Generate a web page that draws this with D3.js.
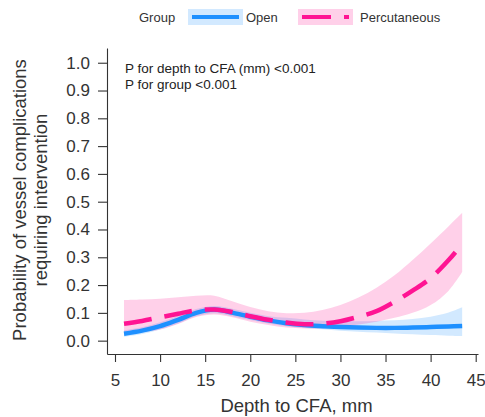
<!DOCTYPE html>
<html>
<head>
<meta charset="utf-8">
<script src="https://cdn.jsdelivr.net/npm/d3@7"></script>
<style>
  body { margin: 0; background: #fff; }
  svg text { font-family: "Liberation Sans", Arial, sans-serif; }
</style>
</head>
<body>
<svg width="485" height="417"></svg>
<script>
// depth to CFA (mm) where the curves were read
depth = [6, 8, 10, 12, 14, 16, 18, 20, 22, 24, 26, 28, 30, 32, 34, 36, 38, 40, 42, 43.5];

// Open
openFit = [0.025, 0.036, 0.052, 0.075, 0.100, 0.112, 0.101, 0.086, 0.073, 0.063, 0.056, 0.052, 0.049, 0.047, 0.046, 0.046, 0.047, 0.049, 0.051, 0.053];
openLow = [0.014, 0.024, 0.040, 0.062, 0.088, 0.099, 0.088, 0.074, 0.062, 0.052, 0.046, 0.041, 0.036, 0.032, 0.029, 0.026, 0.023, 0.020, 0.018, 0.017];
openHigh = [0.037, 0.048, 0.066, 0.090, 0.114, 0.125, 0.115, 0.100, 0.088, 0.082, 0.076, 0.072, 0.070, 0.070, 0.071, 0.073, 0.078, 0.086, 0.101, 0.120];

// Percutaneous
percFit = [0.061, 0.071, 0.084, 0.097, 0.109, 0.112, 0.103, 0.088, 0.075, 0.065, 0.059, 0.061, 0.070, 0.086, 0.106, 0.140, 0.180, 0.225, 0.290, 0.348];
percLow = [0.022, 0.030, 0.040, 0.060, 0.085, 0.094, 0.084, 0.068, 0.056, 0.047, 0.044, 0.045, 0.050, 0.058, 0.068, 0.082, 0.100, 0.128, 0.180, 0.247];
percHigh = [0.146, 0.148, 0.151, 0.156, 0.162, 0.162, 0.142, 0.121, 0.106, 0.099, 0.100, 0.110, 0.128, 0.155, 0.190, 0.235, 0.290, 0.350, 0.412, 0.460];

xTicks = [5, 10, 15, 20, 25, 30, 35, 40, 45];
yTicks = [0, 0.1, 0.2, 0.3, 0.4, 0.5, 0.6, 0.7, 0.8, 0.9, 1.0];

blue = '#1e90ff';
pink = '#ff1493';

svg = d3.select('svg');

// panel edges (window.top is read-only, so no bare "top")
panelLeft = 107; panelRight = 478; panelTop = 48; panelBottom = 354;

xScale = d3.scaleLinear().domain([4.113, 45.255]).range([panelLeft, panelRight]);
yScale = d3.scaleLinear().domain([-0.048, 1.053]).range([panelBottom, panelTop]);

series = [
    { name: 'Open', color: blue, fit: openFit, low: openLow, high: openHigh, dash: null },
    { name: 'Percutaneous', color: pink, fit: percFit, low: percLow, high: percHigh, dash: '28,13' }
];

ribbon = d3.area()
    .x((d) => xScale(d.x))
    .y0((d) => yScale(d.lo))
    .y1((d) => yScale(d.hi))
    .curve(d3.curveCatmullRom);

fitLine = d3.line()
    .x((d) => xScale(d.x))
    .y((d) => yScale(d.y))
    .curve(d3.curveCatmullRom);

// ribbons first, then lines
series.forEach((s) => {
    pts = depth.map((x, i) => ({ x: x, lo: s.low[i], hi: s.high[i] }));
    svg.append('path')
        .attr('d', ribbon(pts))
        .attr('fill', s.color)
        .attr('fill-opacity', 0.2);
});

series.forEach((s) => {
    pts = depth.map((x, i) => ({ x: x, y: s.fit[i] }));
    svg.append('path')
        .attr('d', fitLine(pts))
        .attr('fill', 'none')
        .attr('stroke', s.color)
        .attr('stroke-width', 4.5)
        .attr('stroke-dasharray', s.dash);
});

// axes
xAxis = svg.append('g')
    .attr('transform', `translate(0, ${panelBottom})`)
    .call(d3.axisBottom(xScale).tickValues(xTicks).tickSize(8).tickSizeOuter(0).tickPadding(12));

yAxis = svg.append('g')
    .attr('transform', `translate(${panelLeft}, 0)`)
    .call(d3.axisLeft(yScale).tickValues(yTicks).tickSize(9).tickSizeOuter(0).tickPadding(8)
        .tickFormat(d3.format('.1f')));

[xAxis, yAxis].forEach((g) => {
    g.selectAll('path, line').attr('stroke', '#333').attr('stroke-width', 1.1);
    g.selectAll('text').attr('fill', '#333').style('font-size', '17px');
});

// axis titles
svg.append('text')
    .attr('x', (panelLeft + panelRight) / 2 + 4)
    .attr('y', 412)
    .attr('text-anchor', 'middle')
    .attr('fill', '#333')
    .style('font-size', '18.5px')
    .text('Depth to CFA, mm');

yTitle = svg.append('text')
    .attr('transform', 'translate(26, 200) rotate(-90)')
    .attr('text-anchor', 'middle')
    .attr('fill', '#333')
    .style('font-size', '18.5px');
yTitle.append('tspan').attr('x', 0).attr('y', 0).text('Probability of vessel complications');
yTitle.append('tspan').attr('x', 0).attr('y', 21).text('requiring intervention');

// annotation
svg.append('text')
    .attr('x', 125).attr('y', 73)
    .attr('fill', '#222')
    .style('font-size', '13.5px')
    .text('P for depth to CFA (mm) <0.001');
svg.append('text')
    .attr('x', 125).attr('y', 89)
    .attr('fill', '#222')
    .style('font-size', '13.5px')
    .text('P for group <0.001');

// legend
legend = svg.append('g');
legend.append('text')
    .attr('x', 139).attr('y', 22)
    .attr('fill', '#333')
    .style('font-size', '13px')
    .text('Group');

keyX = [188, 298];
labelX = [246, 360];
series.forEach((s, i) => {
    legend.append('rect')
        .attr('x', keyX[i]).attr('y', 9)
        .attr('width', 55).attr('height', 16)
        .attr('fill', s.color)
        .attr('fill-opacity', 0.2);
    legend.append('line')
        .attr('x1', keyX[i] + 4).attr('x2', keyX[i] + 51)
        .attr('y1', 17).attr('y2', 17)
        .attr('stroke', s.color)
        .attr('stroke-width', 4)
        .attr('stroke-dasharray', s.dash ? '29,13' : null);
    legend.append('text')
        .attr('x', labelX[i]).attr('y', 22)
        .attr('fill', '#333')
        .style('font-size', '13px')
        .text(s.name);
});
</script>
</body>
</html>
